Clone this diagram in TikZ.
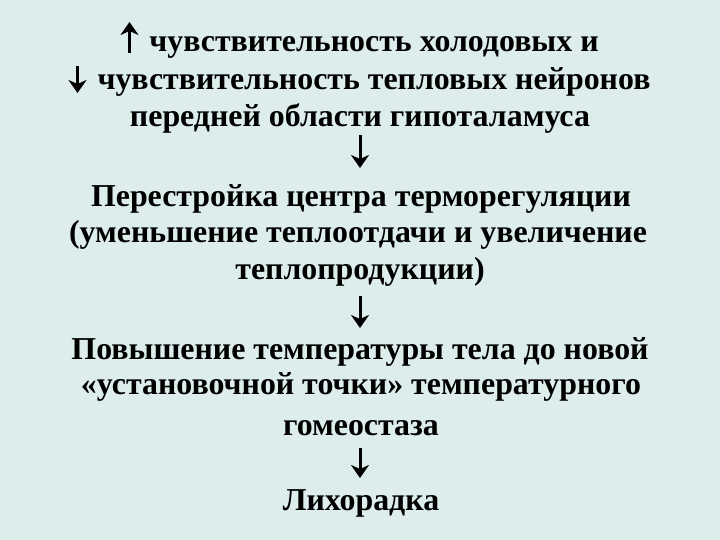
\documentclass[tikz,border=0pt]{standalone}
\usepackage{fontspec}
\setmainfont{Liberation Serif}
\usetikzlibrary{arrows.meta}
\definecolor{bgc}{HTML}{DCEDEC}
\begin{document}
\begin{tikzpicture}[x=1bp,y=-1bp,
  txt/.style={font=\fontsize{32}{36}\selectfont\bfseries, inner sep=0pt, anchor=base},
  darr/.style={line width=3bp, line cap=butt, -{Stealth[length=13bp,width=18bp,inset=4bp]}}]
\fill[bgc] (0,0) rectangle (720,540);
\useasboundingbox (0,0) rectangle (720,540);
\node[txt] (l1) at (374,52) {чувствительность холодовых и};
\node[txt] (l2) at (374,90) {чувствительность тепловых нейронов};
\node[txt] (l3) at (360,127) {передней области гипоталамуса};
\node[txt] (m1) at (361,207) {Перестройка центра терморегуляции};
\node[txt] (m2) at (358,243) {(уменьшение теплоотдачи и увеличение};
\node[txt] (m3) at (360,280) {теплопродукции)};
\node[txt] (n1) at (360,359) {Повышение температуры тела до новой};
\node[txt] (n2) at (361,394) {«установочной точки» температурного};
\node[txt] (n3) at (361,435) {гомеостаза};
\node[txt] (f) at (361,510) {Лихорадка};
% inline arrows
\coordinate (u1s) at (129.5,53); \coordinate (u1e) at (129.5,22);
\coordinate (d1s) at (77.5,66);  \coordinate (d1e) at (77.5,93);
\draw[darr] (u1s) -- (u1e);
\draw[darr] (d1s) -- (d1e);
% block arrows
\coordinate (a1s) at (360,135); \coordinate (a1e) at (360,168);
\coordinate (a2s) at (360,296); \coordinate (a2e) at (360,328);
\coordinate (a3s) at (360,448); \coordinate (a3e) at (360,478);
\draw[darr] (a1s) -- (a1e);
\draw[darr] (a2s) -- (a2e);
\draw[darr] (a3s) -- (a3e);
\end{tikzpicture}
\end{document}
